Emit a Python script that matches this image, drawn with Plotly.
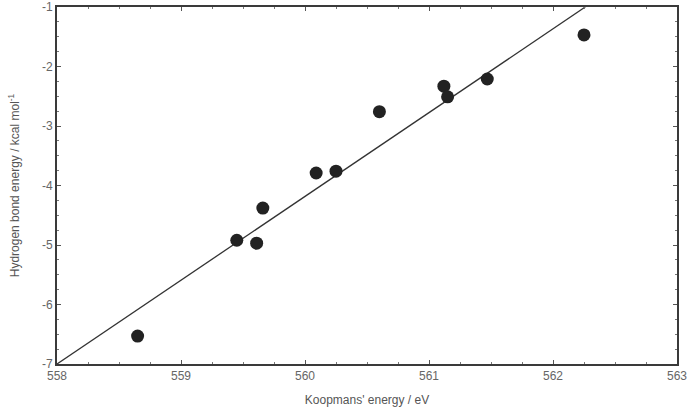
import plotly.graph_objects as go

koopmans_ev = [558.65, 559.45, 559.61, 559.66, 560.09, 560.25, 560.60, 561.12, 561.15, 561.47, 562.25]
hb_energy = [-6.53, -4.92, -4.97, -4.38, -3.79, -3.76, -2.76, -2.33, -2.51, -2.21, -1.47]
fit_x = [558.0, 562.26]
fit_y = [-7.0, -1.0]
x_ticks = [558, 559, 560, 561, 562, 563]
y_ticks = [-7, -6, -5, -4, -3, -2, -1]
y_tick_labels = ["-7", "-6", "-5", "-4", "-3", "-2", "-1"]

fig = go.Figure()
fig.add_trace(go.Scatter(x=fit_x, y=fit_y, mode="lines",
                         line=dict(color="#333333", width=1.3), showlegend=False))
fig.add_trace(go.Scatter(x=koopmans_ev, y=hb_energy, mode="markers",
                         marker=dict(color="#222222", size=13), showlegend=False))

axis_common = dict(showline=True, linecolor="#3a3a3a", linewidth=2, mirror="ticks",
                   ticks="inside", ticklen=4, tickcolor="#555555", showgrid=False,
                   zeroline=False, automargin=False,
                   tickfont=dict(family="Liberation Sans, Arial", size=12, color="#666666"),
                   minor=dict(ticks="inside", ticklen=2, tickcolor="#777777", dtick=0.25))

fig.update_xaxes(range=[558, 563], tickvals=x_ticks,
                 title=dict(text="Koopmans' energy / eV", standoff=26,
                            font=dict(family="Liberation Sans, Arial", size=12, color="#555555")),
                 **axis_common)
fig.update_yaxes(range=[-7, -1], tickvals=y_ticks, ticktext=y_tick_labels,
                 title=dict(text="Hydrogen bond energy / kcal mol<sup>-1</sup>", standoff=20,
                            font=dict(family="Liberation Sans, Arial", size=12, color="#555555")),
                 **axis_common)

fig.update_layout(width=688, height=407, margin=dict(l=57, r=11, t=7, b=43),
                  plot_bgcolor="white", paper_bgcolor="white")
fig.write_html("out.html")
